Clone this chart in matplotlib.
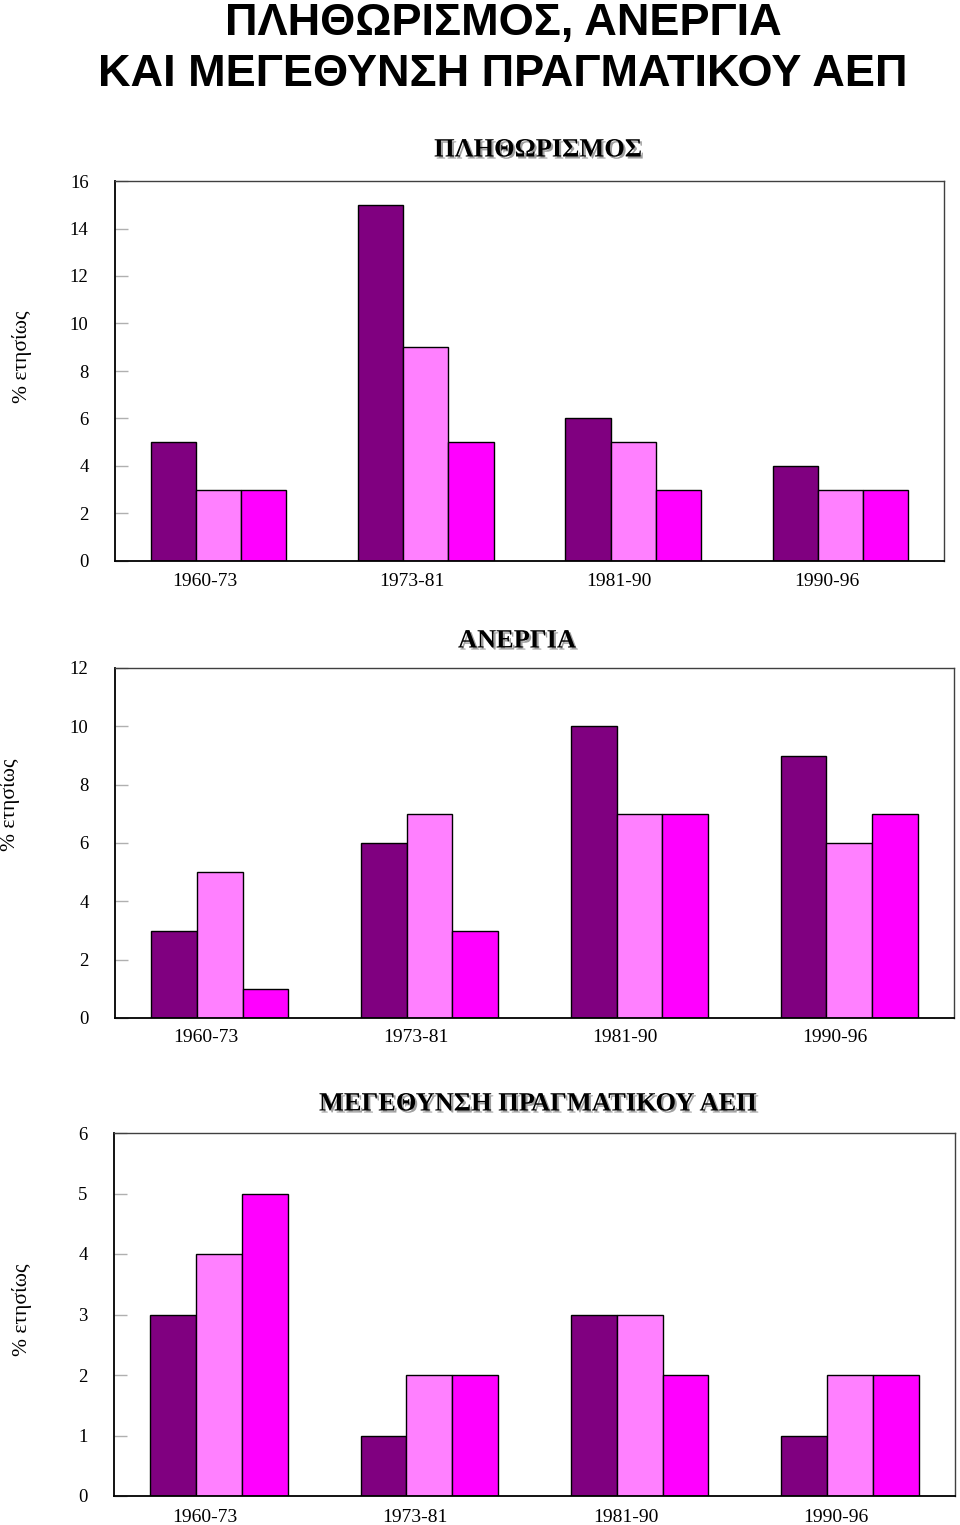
import numpy as np
import matplotlib
matplotlib.use('Agg')
from matplotlib import pyplot as plt
import matplotlib.patheffects as pe

# Data
periods = ['1960-73', '1973-81', '1981-90', '1990-96']
colors = ['#800080', '#FF80FF', '#FF00FF']

infl_a = [5, 15, 6, 4]
infl_b = [3, 9, 5, 3]
infl_c = [3, 5, 3, 3]

unemp_a = [3, 6, 10, 9]
unemp_b = [5, 7, 7, 6]
unemp_c = [1, 3, 7, 7]

gdp_a = [3, 1, 3, 1]
gdp_b = [4, 2, 3, 2]
gdp_c = [5, 2, 2, 2]

W, H = 960, 1525
fig = plt.figure(figsize=(W/100, H/100), dpi=100)

def px_axes(left, top, right, bottom):
    return fig.add_axes([left/W, 1-bottom/H, (right-left)/W, (bottom-top)/H])

title_font = ['Liberation Sans', 'DejaVu Sans']
fig.text(503/W, 1-24/H, 'ΠΛΗΘΩΡΙΣΜΟΣ, ΑΝΕΡΓΙΑ', ha='center', va='center',
         fontsize=32.5, fontweight='bold', family=title_font)
fig.text(503/W, 1-74/H, 'ΚΑΙ ΜΕΓΕΘΥΝΣΗ ΠΡΑΓΜΑΤΙΚΟΥ ΑΕΠ', ha='center', va='center',
         fontsize=32.5, fontweight='bold', family=title_font)

panels = [
    # box (l, t, r, b), series, ymax, step, title, title xy, ylabel xy, xlabel y
    ((115, 181, 944, 561), (infl_a, infl_b, infl_c), 16, 2, 'ΠΛΗΘΩΡΙΣΜΟΣ', (538, 150), (22, 357), 582),
    ((115, 668, 954, 1018), (unemp_a, unemp_b, unemp_c), 12, 2, 'ΑΝΕΡΓΙΑ', (517, 641), (10, 805), 1037),
    ((114, 1133, 955, 1496), (gdp_a, gdp_b, gdp_c), 6, 1, 'ΜΕΓΕΘΥΝΣΗ ΠΡΑΓΜΑΤΙΚΟΥ ΑΕΠ', (538, 1104), (22, 1310), 1518),
]

serif = ['Liberation Serif', 'DejaVu Serif']
x = np.arange(len(periods))
bw = 0.218

for box, series, ymax, step, title, txy, lxy, xly in panels:
    ax = px_axes(*box)
    for i, vals in enumerate(series):
        ax.bar(x + (i - 1)*bw, vals, width=bw, color=colors[i],
               edgecolor='black', linewidth=1.0)
    ax.set_xlim(-0.5, 3.5)
    ax.set_ylim(0, ymax)
    ax.set_yticks(np.arange(0, ymax + 1, step))
    ax.tick_params(axis='y', direction='in', length=9, width=1, color='#b0b0b0',
                   pad=19, labelsize=13.5)
    for lab in ax.get_yticklabels():
        lab.set_family(serif)
    ax.set_xticks([])
    for i, p in enumerate(periods):
        fig.text((box[0] + (box[2]-box[0])*(i+0.5)/4 - 14)/W, 1-xly/H, p,
                 ha='center', va='center', fontsize=14, family=serif)
    for s in ['left', 'bottom']:
        ax.spines[s].set_color('black')
        ax.spines[s].set_linewidth(1.3)
    for s in ['top', 'right']:
        ax.spines[s].set_color('#404040')
        ax.spines[s].set_linewidth(1.0)
    fig.text(txy[0]/W, 1-txy[1]/H, title, ha='center', va='center', fontsize=19,
             fontweight='bold', family=serif,
             path_effects=[pe.withSimplePatchShadow(offset=(1.5, -1.5), shadow_rgbFace='#888888', alpha=0.8)])
    fig.text(lxy[0]/W, 1-lxy[1]/H, '% ετησίως', ha='center', va='center', rotation=90,
             fontsize=15.5, family=serif)

fig.savefig('out.png', dpi=100)
